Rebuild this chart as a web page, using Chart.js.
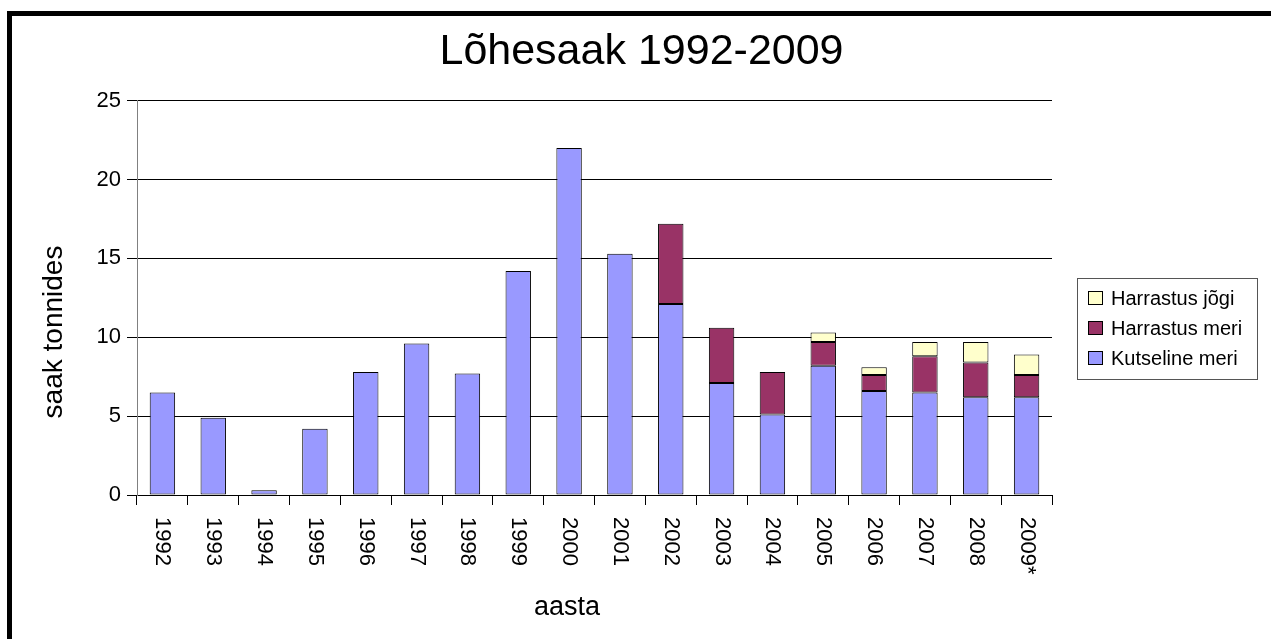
<!DOCTYPE html>
<html>
<head>
<meta charset="utf-8">
<script src="https://cdn.jsdelivr.net/npm/chart.js@4"></script>
<style>
    html, body { margin: 0; padding: 0; background: #fff; overflow: hidden; }
    #frame {
        position: absolute; left: 7px; top: 11px;
        width: 1300px; height: 700px;
        border-left: 5px solid #000; border-top: 5px solid #000;
    }
    #myChart { position: absolute; left: 0; top: 0; }
</style>
</head>
<body>
<div id="frame"><canvas id="myChart" width="1259" height="623"></canvas></div>
<script>
const years = ['1992', '1993', '1994', '1995', '1996', '1997', '1998', '1999', '2000',
    '2001', '2002', '2003', '2004', '2005', '2006', '2007', '2008', '2009*'];
const kutselineMeri = [6.5, 4.9, 0.3, 4.2, 7.8, 9.6, 7.7, 14.2, 22.0,
    15.3, 12.1, 7.1, 5.1, 8.2, 6.6, 6.5, 6.2, 6.2];
const harrastusMeri = [null, null, null, null, null, null, null, null, null,
    null, 5.1, 3.5, 2.7, 1.5, 1.0, 2.3, 2.2, 1.4];
const harrastusJogi = [null, null, null, null, null, null, null, null, null,
    null, null, null, null, 0.6, 0.5, 0.9, 1.3, 1.3];
const yTicks = [0, 5, 10, 15, 20, 25];

const FONT = "'Liberation Sans', Arial, sans-serif";

// rotated year labels, axis titles and the framed legend
const extras = {
    id: 'extras',
    afterDraw(chart) {
        const c = chart.ctx;
        const xs = chart.scales.x;
        c.save();
        c.fillStyle = '#000';
        c.font = '22px ' + FONT;
        c.textAlign = 'left';
        c.textBaseline = 'middle';
        chart.data.labels.forEach((lab, i) => {
            c.save();
            c.translate(xs.getPixelForTick(i), xs.top + 22);
            c.rotate(Math.PI / 2);
            c.fillText(lab, 0, 0);
            c.restore();
        });

        c.font = '27px ' + FONT;
        c.textAlign = 'center';
        c.textBaseline = 'alphabetic';
        c.fillText('aasta', 555, 599);

        c.save();
        c.translate(50, 316);
        c.rotate(-Math.PI / 2);
        c.font = '28px ' + FONT;
        c.fillText('saak tonnides', 0, 0);
        c.restore();

        // legend
        c.strokeStyle = '#555';
        c.lineWidth = 1;
        c.strokeRect(1065.5, 262.5, 180, 101);
        c.font = '20px ' + FONT;
        c.textAlign = 'left';
        c.textBaseline = 'middle';
        const sets = chart.data.datasets.slice().reverse();
        sets.forEach((ds, i) => {
            const y = 282 + i * 30;
            c.fillStyle = ds.backgroundColor;
            c.fillRect(1076, y - 7, 15, 14);
            c.strokeStyle = '#000';
            c.strokeRect(1076.5, y - 6.5, 14, 13);
            c.fillStyle = '#000';
            c.fillText(ds.label, 1099, y + 1);
        });
        c.restore();
    }
};

new Chart(document.getElementById('myChart'), {
    type: 'bar',
    data: {
        labels: years,
        datasets: [
            { label: 'Kutseline meri', data: kutselineMeri, backgroundColor: '#9999FF' },
            { label: 'Harrastus meri', data: harrastusMeri, backgroundColor: '#993366' },
            { label: 'Harrastus jõgi', data: harrastusJogi, backgroundColor: '#FFFFCC' }
        ].map(ds => Object.assign(ds, {
            borderColor: '#000', borderWidth: 1, borderSkipped: false,
            barPercentage: 0.5, categoryPercentage: 1.0
        }))
    },
    options: {
        responsive: false,
        animation: false,
        plugins: {
            legend: { display: false },
            tooltip: { enabled: false },
            title: {
                display: true,
                text: 'Lõhesaak 1992-2009',
                color: '#000',
                font: { family: FONT, size: 43, weight: 'normal' },
                padding: { top: 10, bottom: 23 }
            }
        },
        scales: {
            x: {
                stacked: true,
                grid: { drawOnChartArea: false, drawTicks: true, tickLength: 10, color: '#000', offset: true },
                border: { color: '#000' },
                ticks: { color: 'rgba(0,0,0,0)', minRotation: 90, maxRotation: 90, autoSkip: false,
                    font: { family: FONT, size: 22 } },
                afterFit: s => { s.height = 144; }
            },
            y: {
                stacked: true,
                min: 0,
                max: 25,
                afterBuildTicks: s => { s.ticks = yTicks.map(v => ({ value: v })); },
                grid: { color: '#000', drawTicks: true, tickLength: 10 },
                border: { color: '#808080' },
                ticks: { color: '#000', padding: 6, font: { family: FONT, size: 22 } },
                afterFit: s => { s.width = 125; }
            },
            // empty right-hand space kept for the legend
            room: {
                type: 'linear',
                position: 'right',
                grid: { display: false },
                border: { display: false },
                ticks: { display: false },
                afterFit: s => { s.width = 219; }
            }
        }
    },
    plugins: [extras]
});
</script>
</body>
</html>
